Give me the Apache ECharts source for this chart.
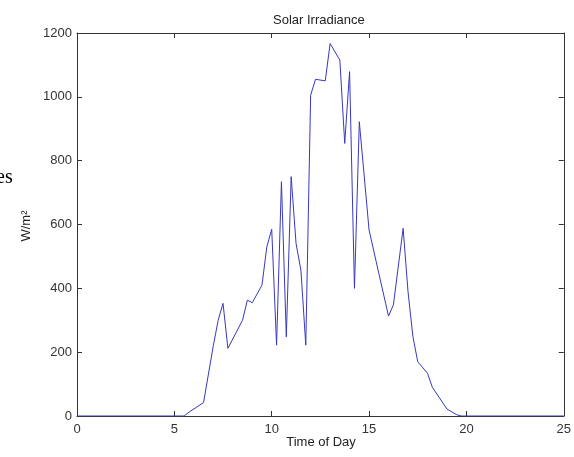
<!DOCTYPE html>
<html>
<head>
<meta charset="utf-8">
<script src="https://cdn.jsdelivr.net/npm/echarts@6/dist/echarts.min.js"></script>
<style>html,body{margin:0;padding:0;background:#fff}#c{width:574px;height:457px}</style>
</head>
<body>
<div id="c"></div>
<script>
const title = 'Solar Irradiance';
const xName = 'Time of Day';
const yName = 'W/m²';
const hours = [0, 5.5, 5.75, 6.5, 7.0, 7.25, 7.5, 7.75, 8.5, 8.75, 9.0, 9.5, 9.75, 10.0, 10.25, 10.5, 10.75, 11.0, 11.25, 11.5, 11.75, 12.0, 12.25, 12.75, 13.0, 13.5, 13.75, 14.0, 14.25, 14.5, 15.0, 15.5, 16.0, 16.25, 16.75, 17.0, 17.25, 17.5, 18.0, 18.25, 19.0, 19.5, 19.75, 25];
const irradiance = [0, 0, 12, 42, 220, 300, 353, 212, 300, 363, 355, 410, 530, 585, 222, 734, 248, 750, 541, 457, 222, 1005, 1055, 1050, 1167, 1115, 854, 1079, 400, 922, 583, 447, 313, 348, 588, 390, 250, 170, 134, 90, 22, 4, 0, 0];
const xTicks = [0, 5, 10, 15, 20, 25];
const yTicks = [0, 200, 400, 600, 800, 1000, 1200];

const font = 'Liberation Sans, Arial, sans-serif';
const axisCol = '#333';
const chart = echarts.init(document.getElementById('c'), null, {renderer: 'canvas'});
const baseAxis = {
  axisLine: {show: true, onZero: false, lineStyle: {color: axisCol, width: 1}},
  axisTick: {show: true, inside: true, length: 5, lineStyle: {color: axisCol, width: 1}},
  splitLine: {show: false},
  axisLabel: {show: false}
};
chart.setOption({
  animation: false,
  backgroundColor: '#fff',
  grid: {left: 77, right: 10, top: 33, bottom: 41},
  xAxis: [
    Object.assign({}, baseAxis, {
      type: 'value', min: xTicks[0], max: xTicks[xTicks.length - 1], interval: 5, position: 'bottom',
      axisLabel: {show: true, color: '#333', fontFamily: font, fontSize: 13, margin: 7, formatter: v => String(v)}
    }),
    Object.assign({}, baseAxis, {
      type: 'value', min: xTicks[0], max: xTicks[xTicks.length - 1], interval: 5, position: 'top'
    })
  ],
  yAxis: [
    Object.assign({}, baseAxis, {
      type: 'value', min: yTicks[0], max: yTicks[yTicks.length - 1], interval: 200, position: 'left',
      axisLabel: {show: true, color: '#333', fontFamily: font, fontSize: 13, margin: 5, formatter: v => String(v)}
    }),
    Object.assign({}, baseAxis, {
      type: 'value', min: yTicks[0], max: yTicks[yTicks.length - 1], interval: 200, position: 'right'
    })
  ],
  series: [{
    type: 'line',
    data: hours.map((h, i) => [h, irradiance[i]]),
    showSymbol: false,
    lineStyle: {color: '#3838c0', width: 1},
    xAxisIndex: 0, yAxisIndex: 0
  }],
  graphic: [
    {type: 'text', left: 273, top: 14, style: {text: title, fill: '#222', font: '13px ' + font}},
    {type: 'text', x: 321, y: 442, style: {text: xName, fill: '#222', font: '13px ' + font, textAlign: 'center', textVerticalAlign: 'middle'}},
    {type: 'text', x: 26, y: 226, rotation: Math.PI / 2, style: {text: yName, fill: '#222', font: '13px ' + font, textAlign: 'center', textVerticalAlign: 'middle'}},
    {type: 'text', x: -4, y: 178, style: {text: 'es', fill: '#000', font: '20px Liberation Serif, serif', textAlign: 'left', textVerticalAlign: 'middle'}}
  ]
});
</script>
</body>
</html>
